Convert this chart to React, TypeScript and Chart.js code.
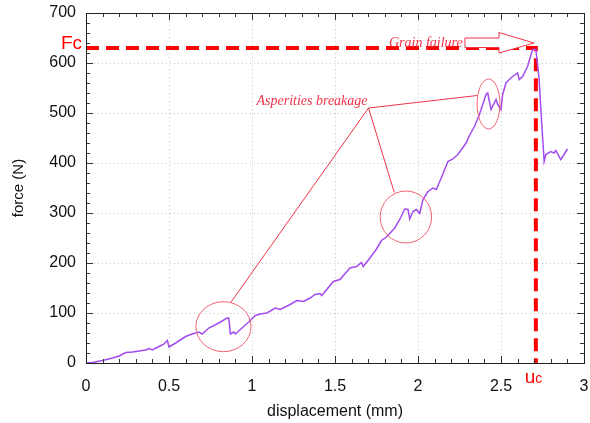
import React, { useEffect, useRef } from "react";
import { Chart, registerables } from "chart.js";

Chart.register(...registerables);

// ---- data ----
const displacement = [
  0, 0.04, 0.1, 0.16, 0.2, 0.24, 0.28, 0.32, 0.36, 0.38, 0.4, 0.44, 0.47, 0.49, 0.5, 0.54, 0.6, 0.64, 0.68, 0.7,
  0.74, 0.8, 0.85, 0.86, 0.87, 0.89, 0.9, 0.94, 0.98, 1.02, 1.05, 1.09, 1.14, 1.17, 1.23, 1.27, 1.31, 1.35, 1.38,
  1.41, 1.42, 1.49, 1.53, 1.59, 1.63, 1.66, 1.67, 1.71, 1.75, 1.78, 1.81, 1.86, 1.89, 1.92, 1.94, 1.95, 1.97, 1.99,
  2.01, 2.03, 2.06, 2.09, 2.11, 2.14, 2.18, 2.21, 2.24, 2.29, 2.31, 2.34, 2.37, 2.41, 2.42, 2.44, 2.47, 2.48, 2.5,
  2.51, 2.53, 2.55, 2.57, 2.6, 2.61, 2.63, 2.66, 2.69, 2.71, 2.73, 2.74, 2.76, 2.77, 2.8, 2.82, 2.83, 2.86, 2.88, 2.9,
];
const force = [
  0, 1, 5, 10, 14, 21, 22, 24, 26, 29, 26, 33, 38, 45, 32, 40, 53, 58, 62, 58,
  70, 80, 90, 90, 58, 62, 58, 70, 82, 95, 98, 100, 110, 107, 117, 125, 123, 130, 137,
  139, 135, 163, 167, 190, 193, 201, 193, 210, 228, 245, 252, 270, 287, 308, 307, 288, 303, 307,
  299, 327, 343, 350, 347, 370, 403, 408, 417, 440, 455, 473, 497, 537, 540, 507, 527, 517, 507,
  537, 560, 567, 573, 580, 567, 573, 593, 627, 627, 567, 507, 403, 417, 423, 420, 425, 407, 417, 428,
];
const xTickValues = [0, 0.5, 1, 1.5, 2, 2.5, 3];
const yTickValues = [0, 100, 200, 300, 400, 500, 600, 700];
const criticalForce = 630; // Fc
const criticalDisp = 2.71; // uc

// annotation anchors (data units)
const asperityCircles = [
  { x: 0.828, y: 72.6, rx: 0.166, ry: 50 },
  { x: 1.927, y: 292, rx: 0.155, ry: 52 },
  { x: 2.425, y: 518, rx: 0.069, ry: 50 },
];
const asperityAnchor = { x: 1.702, y: 510 };
const asperityLeaderEnds = [
  { x: 0.872, y: 121 },
  { x: 1.857, y: 341 },
  { x: 2.357, y: 535 },
];
const grainLabelPos = { x: 1.825, y: 633 };
const arrowGeom = { x0: 2.283, xHead: 2.488, xTip: 2.699, shaftTop: 650, shaftBottom: 631, headTop: 661, headBottom: 620, tipY: 640 };

const SANS = "'Liberation Sans', Arial, sans-serif";
const SERIF = "'Liberation Serif', 'Times New Roman', serif";
const ANN_RED = "#f03448";

const framePlugin = {
  id: "frame",
  beforeDatasetsDraw(chart: any) {
    const { ctx, chartArea: a, scales } = chart;
    const x = scales.x, y = scales.y;
    ctx.save();
    ctx.strokeStyle = "#c4c4c4";
    ctx.lineWidth = 1;
    ctx.setLineDash([1, 3]);
    for (const v of xTickValues) {
      if (v <= 0 || v >= 3) continue;
      const px = Math.round(x.getPixelForValue(v)) + 0.5;
      ctx.beginPath();
      ctx.moveTo(px, a.top);
      ctx.lineTo(px, a.bottom);
      ctx.stroke();
    }
    for (const v of yTickValues) {
      if (v <= 0 || v >= 700) continue;
      const py = Math.round(y.getPixelForValue(v)) + 0.5;
      ctx.beginPath();
      ctx.moveTo(a.left, py);
      ctx.lineTo(a.right, py);
      ctx.stroke();
    }
    ctx.restore();
  },
  afterDatasetsDraw(chart: any) {
    const { ctx, chartArea: a, scales } = chart;
    const x = scales.x, y = scales.y;
    ctx.save();
    // ticks
    ctx.strokeStyle = "#333";
    ctx.lineWidth = 1;
    ctx.setLineDash([]);
    for (let i = 0; i <= 30; i++) {
      const v = i / 10;
      const px = Math.round(x.getPixelForValue(v)) + 0.5;
      const len = i % 5 === 0 ? 7 : 4;
      ctx.beginPath();
      ctx.moveTo(px, a.bottom);
      ctx.lineTo(px, a.bottom - len);
      ctx.moveTo(px, a.top);
      ctx.lineTo(px, a.top + len);
      ctx.stroke();
    }
    for (let i = 0; i <= 35; i++) {
      const v = i * 20;
      const py = Math.round(y.getPixelForValue(v)) + 0.5;
      const len = v % 100 === 0 ? 7 : 4;
      ctx.beginPath();
      ctx.moveTo(a.left, py);
      ctx.lineTo(a.left + len, py);
      ctx.moveTo(a.right, py);
      ctx.lineTo(a.right - len, py);
      ctx.stroke();
    }
    // box
    ctx.strokeStyle = "#222";
    ctx.strokeRect(Math.round(a.left) + 0.5, Math.round(a.top) + 0.5, Math.round(a.right - a.left), Math.round(a.bottom - a.top));

    const sx = (v: number) => x.getPixelForValue(v);
    const sy = (v: number) => y.getPixelForValue(v);
    const kx = sx(1) - sx(0);
    const ky = sy(0) - sy(1);

    // circles
    ctx.strokeStyle = "#f06470";
    ctx.lineWidth = 1;
    for (const c of asperityCircles) {
      ctx.beginPath();
      ctx.ellipse(sx(c.x), sy(c.y), c.rx * kx, c.ry * ky, 0, 0, Math.PI * 2);
      ctx.stroke();
    }
    // leaders
    ctx.strokeStyle = ANN_RED;
    for (const e of asperityLeaderEnds) {
      ctx.beginPath();
      ctx.moveTo(sx(asperityAnchor.x), sy(asperityAnchor.y));
      ctx.lineTo(sx(e.x), sy(e.y));
      ctx.stroke();
    }
    // labels
    ctx.fillStyle = ANN_RED;
    ctx.font = `italic 14px ${SERIF}`;
    ctx.textAlign = "right";
    ctx.textBaseline = "alphabetic";
    ctx.fillText("Asperities breakage", sx(asperityAnchor.x) - 1, sy(asperityAnchor.y) - 3);
    ctx.textAlign = "left";
    ctx.fillText("Grain failure", sx(grainLabelPos.x), sy(grainLabelPos.y));

    // arrow
    const g = arrowGeom;
    ctx.beginPath();
    ctx.moveTo(sx(g.x0), sy(g.shaftTop));
    ctx.lineTo(sx(g.xHead), sy(g.shaftTop));
    ctx.lineTo(sx(g.xHead), sy(g.headTop));
    ctx.lineTo(sx(g.xTip), sy(g.tipY));
    ctx.lineTo(sx(g.xHead), sy(g.headBottom));
    ctx.lineTo(sx(g.xHead), sy(g.shaftBottom));
    ctx.lineTo(sx(g.x0), sy(g.shaftBottom));
    ctx.closePath();
    ctx.fillStyle = "#ffffff";
    ctx.fill();
    ctx.strokeStyle = ANN_RED;
    ctx.stroke();

    // Fc and uc
    ctx.fillStyle = "#ff0000";
    ctx.font = `19px ${SANS}`;
    ctx.textAlign = "right";
    ctx.fillText("Fc", a.left - 4, sy(criticalForce) + 1);
    const ux = sx(criticalDisp);
    ctx.textAlign = "left";
    ctx.font = `19px ${SANS}`;
    ctx.fillText("u", ux - 11, a.bottom + 20);
    ctx.font = `14px ${SANS}`;
    ctx.fillText("c", ux - 0.5, a.bottom + 20);
    ctx.restore();
  },
};

const zeroPad = (s: any) => {
  s.paddingLeft = 0;
  s.paddingRight = 0;
  s.paddingTop = 0;
  s.paddingBottom = 0;
};

export default function App() {
  const ref = useRef<HTMLCanvasElement | null>(null);
  useEffect(() => {
    if (!ref.current) return;
    const curve = displacement.map((d, i) => ({ x: d, y: force[i] }));
    const critical = [
      { x: 0, y: criticalForce },
      { x: criticalDisp, y: criticalForce },
      { x: criticalDisp, y: 0 },
    ];
    const chart = new Chart(ref.current, {
      type: "line",
      data: {
        datasets: [
          {
            data: curve,
            borderColor: "#a24cf0",
            borderWidth: 1.5,
            pointRadius: 0,
            tension: 0,
            fill: false,
          },
          {
            data: critical,
            borderColor: "#ff0000",
            borderWidth: 4,
            borderDash: [13, 7],
            pointRadius: 0,
            tension: 0,
            fill: false,
          },
        ],
      },
      options: {
        animation: false,
        responsive: true,
        maintainAspectRatio: false,
        layout: { padding: { top: 13, right: 6, left: 0, bottom: 0 } },
        plugins: { legend: { display: false }, tooltip: { enabled: false } },
        scales: {
          x: {
            type: "linear",
            min: 0,
            max: 3,
            grid: { display: false, drawTicks: false },
            border: { display: false },
            afterBuildTicks: (s: any) => {
              s.ticks = xTickValues.map((v) => ({ value: v }));
            },
            afterFit: (s: any) => {
              s.height = 60;
              zeroPad(s);
            },
            ticks: {
              padding: 14,
              color: "#111",
              font: { family: SANS, size: 16 },
              maxRotation: 0,
              callback: (v: any) => String(v),
            },
            title: {
              display: true,
              text: "displacement (mm)",
              color: "#111",
              font: { family: SANS, size: 16 },
              padding: { top: 0, bottom: 2 },
            },
          },
          y: {
            type: "linear",
            min: 0,
            max: 700,
            grid: { display: false, drawTicks: false },
            border: { display: false },
            afterBuildTicks: (s: any) => {
              s.ticks = yTickValues.map((v) => ({ value: v }));
            },
            afterFit: (s: any) => {
              s.width = 86;
              zeroPad(s);
            },
            ticks: {
              padding: 10,
              color: "#111",
              font: { family: SANS, size: 16 },
              callback: (v: any) => String(v),
            },
            title: {
              display: true,
              text: "force (N)",
              color: "#111",
              font: { family: SANS, size: 15 },
              padding: { top: 10, bottom: 0 },
            },
          },
        },
      },
      plugins: [framePlugin],
    });
    return () => chart.destroy();
  }, []);
  return (
    <div style={{ position: "fixed", left: 0, top: 0, width: 590, height: 423, background: "#fff" }}>
      <canvas ref={ref} />
    </div>
  );
}
